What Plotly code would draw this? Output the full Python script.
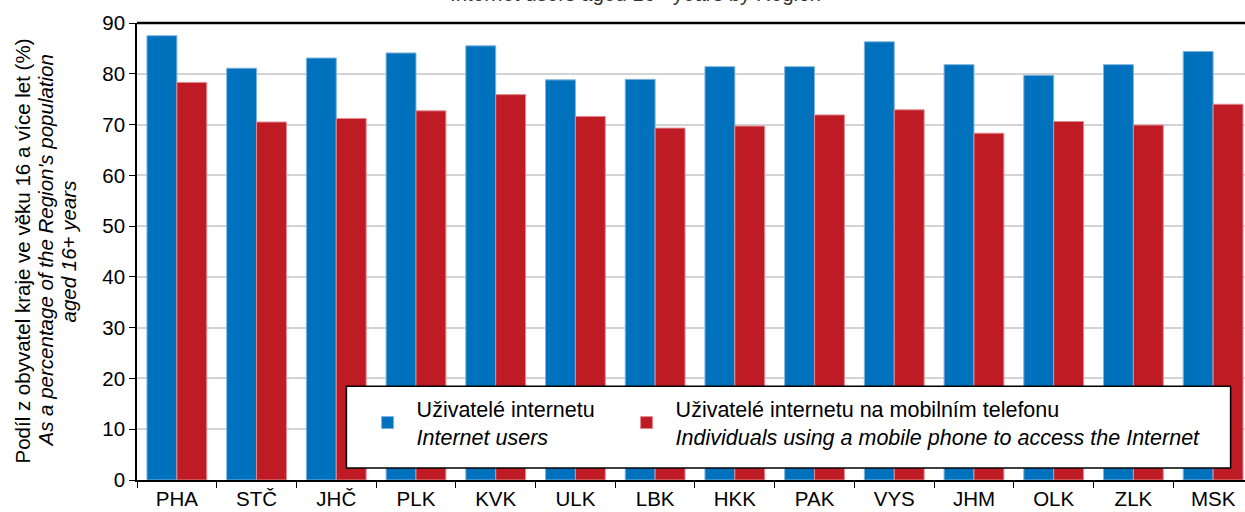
import plotly.graph_objects as go

regions = ["PHA", "STČ", "JHČ", "PLK", "KVK", "ULK", "LBK", "HKK", "PAK", "VYS", "JHM", "OLK", "ZLK", "MSK"]
internet_users = [87.5, 81.1, 83.1, 84.1, 85.5, 78.8, 78.9, 81.4, 81.4, 86.3, 81.8, 79.7, 81.8, 84.4]
mobile_users = [78.3, 70.5, 71.2, 72.7, 75.9, 71.6, 69.3, 69.7, 71.9, 72.9, 68.3, 70.6, 69.9, 74.0]

PAD = "\u00a0" * 3
name_blue = "Uživatelé internetu" + PAD + "<br><i>Internet users</i>"
name_red = "Uživatelé internetu na mobilním telefonu<br><i>Individuals using a mobile phone to access the Internet</i>"
y_title_lines = ["Podíl z obyvatel kraje ve věku 16 a více let (%)",
                 "<i>As a percentage of the Region's population</i>",
                 "<i>aged 16+ years</i>"]

FONT = "Liberation Sans, Arial, sans-serif"
FS = 20.5
LFS = 21.5
BLUE = "#0071BD"
RED = "#BE1B24"

fig = go.Figure()
fig.add_trace(go.Bar(x=regions, y=internet_users, name=name_blue, marker_color=BLUE,
                     marker_line=dict(color="#7FB3DD", width=1)))
fig.add_trace(go.Bar(x=regions, y=mobile_users, name=name_red, marker_color=RED,
                     marker_line=dict(color="#E08A90", width=1)))

L, R, T, B, W, H = 137, 0, 23, 32, 1245, 512
PW = W - L - R

fig.update_layout(
    width=W, height=H,
    margin=dict(l=L, r=R, t=T, b=B),
    paper_bgcolor="white", plot_bgcolor="white",
    font=dict(family=FONT, size=FS, color="black"),
    barmode="group", bargap=0.25, bargroupgap=0,
    showlegend=True,
    legend=dict(orientation="h", x=0.2, y=0.05, xanchor="left", yanchor="bottom",
                bgcolor="rgba(0,0,0,0)", borderwidth=0,
                font=dict(family=FONT, size=LFS), itemwidth=48,
                traceorder="normal"),
)
fig.update_xaxes(range=[-0.5, 13.4], showline=True, linecolor="black", linewidth=1.5,
                 ticks="outside", tickson="boundaries", ticklen=6, tickcolor="black",
                 showgrid=False, tickfont=dict(size=FS))
fig.update_yaxes(range=[0, 90], dtick=10, showline=True, linecolor="black", linewidth=1.5,
                 ticks="outside", ticklen=6, tickcolor="black",
                 showgrid=True, gridcolor="#D3D3D3", gridwidth=2,
                 tickfont=dict(size=FS))
# y-axis title lines
for px, txt in zip([22, 45, 68], y_title_lines):
    fig.add_annotation(text=txt, xref="paper", yref="paper", x=(px - L) / PW, y=0.5,
                       xanchor="center", yanchor="middle", textangle=-90, showarrow=False,
                       font=dict(size=FS, color="black"))
# top frame line
fig.add_shape(type="line", xref="paper", yref="paper", x0=0, x1=1, y0=1, y1=1,
              line=dict(color="black", width=2.5), layer="above")
# legend box
fig.add_shape(type="rect", xref="paper", yref="paper", x0=0.189, x1=0.987, y0=0.026, y1=0.205,
              fillcolor="white", line=dict(color="black", width=1.5), layer="above")
# (cut-off) title
fig.add_annotation(text="Internet users aged 16+ years by Region", xref="paper", yref="paper",
                   x=0.45, y=1.036, xanchor="center", yanchor="bottom", showarrow=False,
                   font=dict(size=FS, color="#333333"))

fig.write_html("out.html", config={"displayModeBar": False},
               post_script="document.body.style.margin='0';document.body.style.overflow='hidden';")
